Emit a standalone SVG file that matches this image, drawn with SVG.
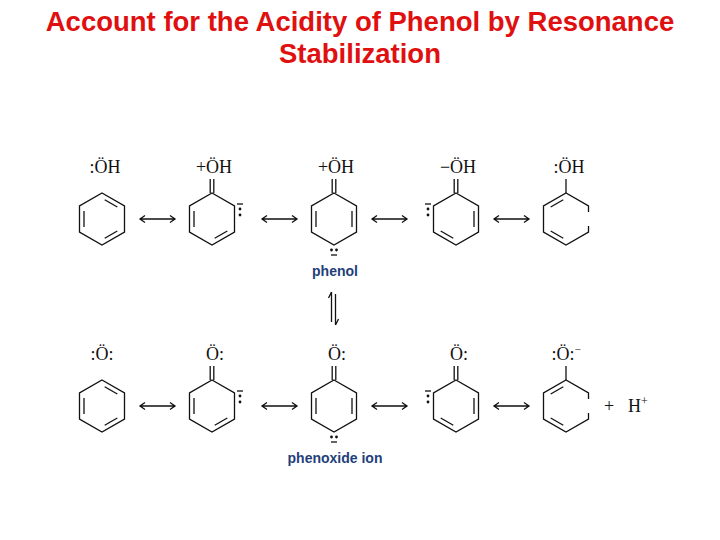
<svg xmlns="http://www.w3.org/2000/svg" width="720" height="540" viewBox="0 0 720 540">
<style>
.t{font-family:"Liberation Sans",Arial,sans-serif;font-weight:bold;font-size:27.5px;fill:#e01010;text-anchor:middle}
.c{font-family:"Liberation Serif","Times New Roman",serif;font-size:18px;fill:#111;text-anchor:middle}
.lab{font-family:"Liberation Sans",Arial,sans-serif;font-weight:bold;font-size:14px;fill:#1f3f7a;text-anchor:middle}
.b{stroke:#111;stroke-width:1.3;fill:none}
.d{fill:#111}
</style>
<defs>
<path id="hex" class="b" d="M0,-26 L22.5,-13 L22.5,13 L0,26 L-22.5,13 L-22.5,-13 Z"/>
<line id="tr" class="b" x1="2.7" y1="-19.2" x2="15.3" y2="-12"/>
<line id="rv" class="b" x1="18" y1="-8" x2="18" y2="8"/>
<line id="br" class="b" x1="15.3" y1="12" x2="2.7" y2="19.2"/>
<line id="bl" class="b" x1="-2.7" y1="19.2" x2="-15.3" y2="12"/>
<line id="lv" class="b" x1="-18" y1="-8" x2="-18" y2="8"/>
<line id="tl" class="b" x1="-15.3" y1="-12" x2="-2.7" y2="-19.2"/>
<g id="dbl"><line class="b" x1="-1.8" y1="-26" x2="-1.8" y2="-40"/><line class="b" x1="1.8" y1="-26" x2="1.8" y2="-40"/></g>
<line id="sgl" class="b" x1="0" y1="-26" x2="0" y2="-40"/>
<g id="ra"><path class="b" d="M0,0 H35 M5,-3.5 L0,0 L5,3.5 M30,-3.5 L35,0 L30,3.5"/></g>
</defs>
<text class="t" x="360" y="31">Account for the Acidity of Phenol by Resonance</text>
<text class="t" x="360" y="63">Stabilization</text>

<g id="phenol-1" transform="translate(102,219)">
<use href="#hex"/><use href="#tr"/><use href="#br"/><use href="#lv"/>
<text class="c" x="3" y="-46">:ÖH</text>
</g>
<g id="phenol-2" transform="translate(212,219)">
<use href="#hex"/><use href="#lv"/><use href="#br"/><use href="#dbl"/>
<text class="c" x="2" y="-46">+ÖH</text>
<line class="b" x1="25" y1="-15" x2="31" y2="-15"/><circle class="d" cx="28" cy="-10" r="1.4"/><circle class="d" cx="28" cy="-4" r="1.4"/>
</g>
<g id="phenol-3" transform="translate(334,219)">
<use href="#hex"/><use href="#lv"/><use href="#rv"/><use href="#dbl"/>
<text class="c" x="2" y="-46">+ÖH</text>
<circle class="d" cx="-2.5" cy="31" r="1.4"/><circle class="d" cx="2.5" cy="31" r="1.4"/><line class="b" x1="-3" y1="36" x2="3" y2="36"/>
</g>
<g id="phenol-4" transform="translate(456,219)">
<use href="#hex"/><use href="#rv"/><use href="#bl"/><use href="#dbl"/>
<text class="c" x="2" y="-46">−ÖH</text>
<line class="b" x1="-31" y1="-15" x2="-25" y2="-15"/><circle class="d" cx="-28" cy="-10" r="1.4"/><circle class="d" cx="-28" cy="-4" r="1.4"/>
</g>
<g id="phenol-5" transform="translate(566,219)">
<path class="b" d="M22.5,-7 L22.5,-13 L0,-26 L-22.5,-13 L-22.5,13 L0,26 L22.5,13 L22.5,7"/>
<use href="#tl"/><use href="#bl"/><use href="#sgl"/>
<text class="c" x="3" y="-46">:ÖH</text>
</g>
<text class="lab" x="335" y="276">phenol</text>

<g id="phenoxide-1" transform="translate(102,406)">
<use href="#hex"/><use href="#tr"/><use href="#br"/><use href="#lv"/>
<text class="c" x="0" y="-46">:Ö:</text>
</g>
<g id="phenoxide-2" transform="translate(212,406)">
<use href="#hex"/><use href="#lv"/><use href="#br"/><use href="#dbl"/>
<text class="c" x="3" y="-46">Ö:</text>
<line class="b" x1="25" y1="-15" x2="31" y2="-15"/><circle class="d" cx="28" cy="-10" r="1.4"/><circle class="d" cx="28" cy="-4" r="1.4"/>
</g>
<g id="phenoxide-3" transform="translate(334,406)">
<use href="#hex"/><use href="#lv"/><use href="#rv"/><use href="#dbl"/>
<text class="c" x="3" y="-46">Ö:</text>
<circle class="d" cx="-2.5" cy="31" r="1.4"/><circle class="d" cx="2.5" cy="31" r="1.4"/><line class="b" x1="-3" y1="36" x2="3" y2="36"/>
</g>
<g id="phenoxide-4" transform="translate(456,406)">
<use href="#hex"/><use href="#rv"/><use href="#bl"/><use href="#dbl"/>
<text class="c" x="3" y="-46">Ö:</text>
<line class="b" x1="-31" y1="-15" x2="-25" y2="-15"/><circle class="d" cx="-28" cy="-10" r="1.4"/><circle class="d" cx="-28" cy="-4" r="1.4"/>
</g>
<g id="phenoxide-5" transform="translate(566,406)">
<path class="b" d="M22.5,-7 L22.5,-13 L0,-26 L-22.5,-13 L-22.5,13 L0,26 L22.5,13 L22.5,7"/>
<use href="#tl"/><use href="#bl"/><use href="#sgl"/>
<text class="c" x="0" y="-46">:Ö:<tspan font-size="11" dy="-7">−</tspan></text>
</g>
<g id="proton">
<text class="c" x="609" y="412">+</text>
<text class="c" x="638" y="412">H<tspan font-size="12" dy="-7">+</tspan></text>
</g>
<text class="lab" x="335" y="463">phenoxide ion</text>

<g id="connectors">
<use href="#ra" x="140" y="219"/><use href="#ra" x="262" y="219"/><use href="#ra" x="372" y="219"/><use href="#ra" x="494" y="219"/>
<use href="#ra" x="140" y="406"/><use href="#ra" x="262" y="406"/><use href="#ra" x="372" y="406"/><use href="#ra" x="494" y="406"/>
<path class="b" d="M331.5,292 V322 M331.5,292 L328.5,298"/>
<path class="b" d="M335.5,294 V325 M335.5,325 L338.5,319"/>
</g>
</svg>
